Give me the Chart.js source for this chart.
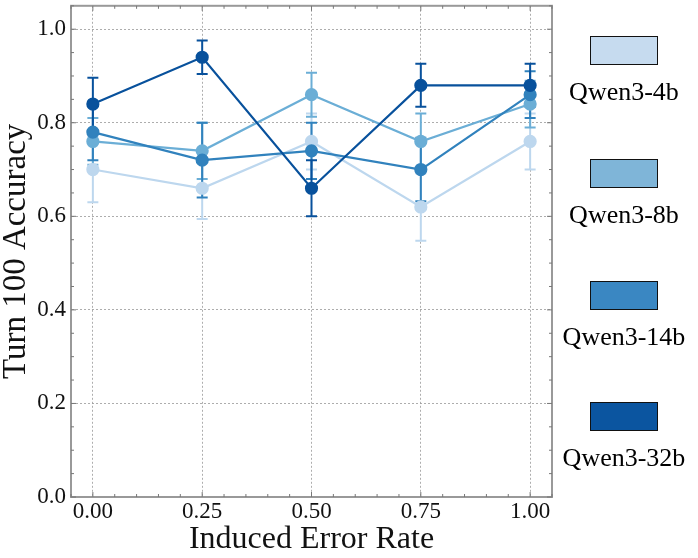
<!DOCTYPE html>
<html>
<head>
<meta charset="utf-8">
<script src="https://cdn.jsdelivr.net/npm/chart.js@4.4.0/dist/chart.umd.min.js"></script>
<style>
  html, body { margin: 0; padding: 0; background: #fff; overflow: hidden; }
  #wrap { position: relative; width: 698px; height: 558px; overflow: hidden; }
  #myChart { position: absolute; left: 0; top: -13px; }
  .leg { position: absolute; left: 560px; width: 128px; text-align: center;
         font-family: "Liberation Serif", serif; font-size: 26px; color: #000; }
  .leg .box { width: 66px; height: 27px; margin: 0 auto 12px auto; border: 1.5px solid #111; }
</style>
</head>
<body>
<div id="wrap">
  <canvas id="myChart" width="698" height="571"></canvas>
  <div id="legend"></div>
</div>
<script>
// data
var errorRates = [0, 0.25, 0.5, 0.75, 1.0];
var xTickLabels = ["0.00", "0.25", "0.50", "0.75", "1.00"];
var yTickValues = [0, 0.2, 0.4, 0.6, 0.8, 1.0];

var modelNames = ["Qwen3-4b", "Qwen3-8b", "Qwen3-14b", "Qwen3-32b"];
var acc4b  = [0.70, 0.66, 0.76, 0.62, 0.76];
var acc8b  = [0.76, 0.74, 0.86, 0.76, 0.84];
var acc14b = [0.78, 0.72, 0.74, 0.70, 0.86];
var acc32b = [0.84, 0.94, 0.66, 0.88, 0.88];
var err4b  = [0.07, 0.066, 0.06, 0.072, 0.06];
var err8b  = [0.05, 0.06, 0.047, 0.06, 0.05];
var err14b = [0.06, 0.08, 0.06, 0.068, 0.05];
var err32b = [0.056, 0.036, 0.06, 0.046, 0.046];

var lineColors = ["#bdd7ee", "#6baed6", "#3182bd", "#08519c"];
var patchColors = ["#c6dbef", "#7fb5d8", "#3a87c2", "#0b55a0"];

var allAcc = [acc4b, acc8b, acc14b, acc32b];
var allErr = [err4b, err8b, err14b, err32b];

var datasets = [];
for (var i = 0; i < modelNames.length; i++) {
  var pts = [];
  for (var j = 0; j < errorRates.length; j++) {
    pts.push({ x: errorRates[j], y: allAcc[i][j] });
  }
  datasets.push({
    label: modelNames[i],
    data: pts,
    errs: allErr[i],
    borderColor: lineColors[i],
    backgroundColor: lineColors[i],
    pointBackgroundColor: lineColors[i],
    pointBorderColor: lineColors[i],
    pointRadius: 5.5,
    borderWidth: 2.2,
    tension: 0,
    order: modelNames.length - i
  });
}

// html legend on the right
var legHtml = "";
var legTops = [36, 159, 281, 402];
for (var k = 0; k < modelNames.length; k++) {
  legHtml += '<div class="leg" style="top:' + legTops[k] + 'px"><div class="box" style="background:' +
    patchColors[k] + '"></div>' + modelNames[k] + '</div>';
}
document.getElementById("legend").innerHTML = legHtml;

// error bars, drawn before the lines so markers sit on top
var errorBars = {
  id: 'errorBars',
  beforeDatasetsDraw: function (chart) {
    var ctx = chart.ctx;
    var xs = chart.scales.x, ys = chart.scales.y;
    ctx.save();
    chart.data.datasets.forEach(function (ds) {
      ctx.strokeStyle = ds.borderColor;
      ctx.lineWidth = 2;
      ds.data.forEach(function (p, idx) {
        var px = xs.getPixelForValue(p.x);
        var top = ys.getPixelForValue(p.y + ds.errs[idx]);
        var bot = ys.getPixelForValue(p.y - ds.errs[idx]);
        ctx.beginPath();
        ctx.moveTo(px, top); ctx.lineTo(px, bot);
        ctx.moveTo(px - 5.5, top); ctx.lineTo(px + 5.5, top);
        ctx.moveTo(px - 5.5, bot); ctx.lineTo(px + 5.5, bot);
        ctx.stroke();
      });
    });
    ctx.restore();
  }
};

// closed frame plus inward major/minor ticks
var frame = {
  id: 'frame',
  afterDraw: function (chart) {
    var ctx = chart.ctx, a = chart.chartArea;
    var xs = chart.scales.x, ys = chart.scales.y;
    ctx.save();
    ctx.strokeStyle = '#999';
    ctx.lineWidth = 2;
    ctx.strokeRect(a.left, a.top, a.right - a.left, a.bottom - a.top);
    ctx.lineWidth = 1;
    ctx.strokeStyle = '#777';
    ctx.beginPath();
    for (var v = -0.05; v <= 1.051; v += 0.05) {
      var px = xs.getPixelForValue(v);
      var major = Math.abs(v / 0.25 - Math.round(v / 0.25)) < 0.01;
      var len = major ? 5 : 3;
      ctx.moveTo(px, a.bottom); ctx.lineTo(px, a.bottom - len);
      ctx.moveTo(px, a.top); ctx.lineTo(px, a.top + len);
    }
    for (var w = 0; w <= 1.051; w += 0.05) {
      var py = ys.getPixelForValue(w);
      var majorY = Math.abs(w / 0.2 - Math.round(w / 0.2)) < 0.01;
      var lenY = majorY ? 5 : 3;
      ctx.moveTo(a.left, py); ctx.lineTo(a.left + lenY, py);
      ctx.moveTo(a.right, py); ctx.lineTo(a.right - lenY, py);
    }
    ctx.stroke();
    ctx.restore();
  }
};

var ctx = document.getElementById("myChart").getContext('2d');
var chart = new Chart(ctx, {
  type: 'line',
  data: { datasets: datasets },
  plugins: [errorBars, frame],
  options: {
    responsive: false,
    animation: false,
    layout: { padding: { left: 0, right: 146, top: 4, bottom: 0 } },
    plugins: { legend: { display: false }, tooltip: { enabled: false } },
    scales: {
      x: {
        type: 'linear',
        min: -0.05, max: 1.05,
        afterBuildTicks: function (axis) {
          axis.ticks = errorRates.map(function (v) { return { value: v }; });
        },
        afterFit: function (axis) { axis.height = 61; },
        ticks: {
          callback: function (v) { return xTickLabels[errorRates.indexOf(v)]; },
          font: { family: "Liberation Serif", size: 23 },
          color: '#111', padding: 1, maxRotation: 0
        },
        grid: { color: '#999', lineWidth: 0.8, drawTicks: false },
        border: { color: '#999', width: 2, dash: [2, 2] },
        title: { display: true, text: 'Induced Error Rate',
                 font: { family: "Liberation Serif", size: 32, lineHeight: 1 }, color: '#111', padding: { top: 0, bottom: 2 } }
      },
      y: {
        min: 0, max: 1.05,
        afterBuildTicks: function (axis) {
          axis.ticks = yTickValues.map(function (v) { return { value: v }; });
        },
        afterFit: function (axis) { axis.width = 71; },
        ticks: {
          callback: function (v) { return v.toFixed(1); },
          font: { family: "Liberation Serif", size: 23 },
          color: '#111', padding: 5
        },
        grid: { color: '#999', lineWidth: 0.8, drawTicks: false },
        border: { color: '#999', width: 2, dash: [2, 2] },
        title: { display: true, text: 'Turn 100 Accuracy',
                 font: { family: "Liberation Serif", size: 33, lineHeight: 1 }, color: '#111', padding: { top: 0, bottom: 0 } }
      }
    }
  }
});
</script>
</body>
</html>
